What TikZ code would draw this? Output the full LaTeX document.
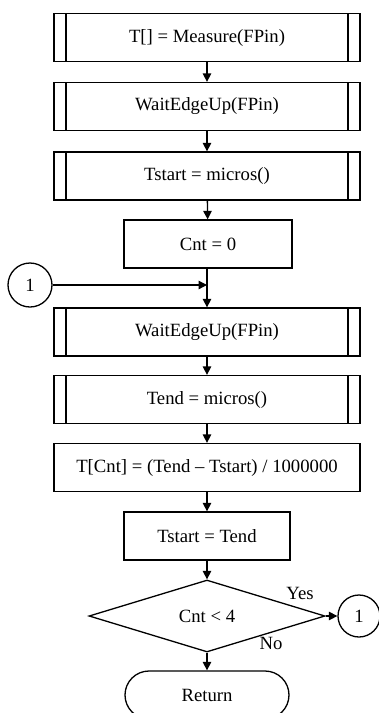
\documentclass[tikz,border=0pt]{standalone}
\usepackage{fontspec}
\setmainfont{Liberation Serif}
\usetikzlibrary{shapes.geometric,arrows.meta}
\begin{document}
\begin{tikzpicture}[x=1pt,y=-1pt,
  every node/.style={font=\fontsize{18.7}{20}\selectfont},
  base/.style={draw,line width=1.3pt,inner sep=0pt},
  subproc/.style={base,rectangle,minimum width=306pt,minimum height=48pt,
    path picture={
      \draw[line width=1.3pt] ([xshift=12pt]path picture bounding box.north west) -- ([xshift=12pt]path picture bounding box.south west);
      \draw[line width=1.3pt] ([xshift=-12pt]path picture bounding box.north east) -- ([xshift=-12pt]path picture bounding box.south east);
    }},
  proc/.style={base,rectangle,minimum height=48pt},
  decide/.style={base,diamond,minimum width=236pt,minimum height=72pt,aspect=3.28},
  term/.style={base,rectangle,rounded corners=24pt,minimum width=164pt,minimum height=48pt},
  conn/.style={base,circle,minimum size=44pt},
  arr/.style={line width=1.3pt,-{Triangle[length=8.5pt,width=8.5pt]}},
  lbl/.style={font=\fontsize{18.7}{20}\selectfont}
]
\useasboundingbox (0,0) rectangle (379,713);
\node[subproc] (b1) at (207,37.5) {T[] = Measure(FPin)};
\node[subproc] (b2) at (207,106.5) {WaitEdgeUp(FPin)};
\node[subproc] (b3) at (207,176) {Tstart = micros()};
\node[proc,minimum width=168pt] (b4) at (208,244) {Cnt = 0};
\node[conn] (c1) at (30,285) {1};
\coordinate (j) at (207,285);
\node[subproc] (b5) at (207,332) {WaitEdgeUp(FPin)};
\node[subproc] (b6) at (207,399.5) {Tend = micros()};
\node[proc,minimum width=306pt] (b7) at (207,467.5) {T[Cnt] = (Tend -- Tstart) / 1000000};
\node[proc,minimum width=166pt] (b8) at (207,536) {Tstart = Tend};
\node[decide] (d) at (207,616) {Cnt < 4};
\node[conn,minimum size=42pt] (c2) at (359,616) {1};
\node[term] (r) at (207,695) {Return};
\node[lbl] (yes) at (300,593) {Yes};
\node[lbl] (no) at (271,643) {No};
\draw[arr] (b1) -- (b2);
\draw[arr] (b2) -- (b3);
\draw[arr] (b3) -- (b4);
\draw[arr] (b4.south -| b5.north) -- (b5);
\draw[arr] (c1) -- (j);
\draw[arr] (b5) -- (b6);
\draw[arr] (b6) -- (b7);
\draw[arr] (b7) -- (b8);
\draw[arr] (b8) -- (d);
\draw[arr] (d.east) -- (c2);
\draw[arr] (d.south) -- (r);
\end{tikzpicture}
\end{document}
